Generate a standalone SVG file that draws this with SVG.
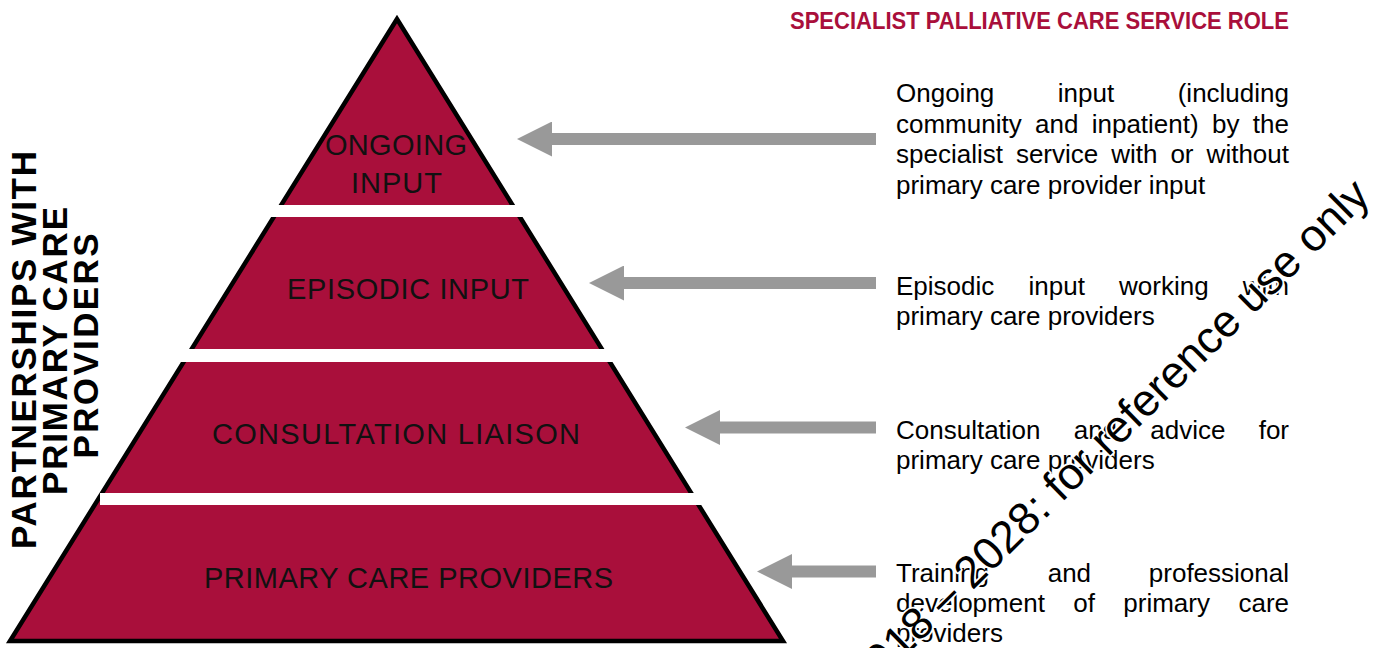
<svg xmlns="http://www.w3.org/2000/svg" width="1374" height="648" viewBox="0 0 1374 648">
<style>
.lvl{font-family:"Liberation Sans",Arial,sans-serif;font-size:29px;fill:#111}
.side{font-family:"Liberation Sans",Arial,sans-serif;font-size:35px;font-weight:bold;fill:#000}
.desc{font-family:"Liberation Sans",Arial,sans-serif;font-size:26px;fill:#000}
.title{font-family:"Liberation Sans",Arial,sans-serif;font-size:23px;font-weight:bold;fill:#A90F3B}
.wm{font-family:"Liberation Sans",Arial,sans-serif;font-size:45px;fill:#000;stroke:#fff;stroke-width:3.5;paint-order:stroke;stroke-linejoin:round}
.conn{stroke:#999;stroke-width:12;fill:none}
</style>
<defs>
<marker id="head" markerUnits="userSpaceOnUse" markerWidth="35" markerHeight="35" viewBox="0 0 35 35" refX="0" refY="17.5" orient="auto">
<path d="M0,0 L35,17.5 L0,35 z" fill="#999"/>
</marker>
</defs>
<rect width="1374" height="648" fill="#fff"/>
<g id="pyramid">
<polygon points="397,19 10,641 783,641" fill="#A90F3B" stroke="#000" stroke-width="4.5" stroke-linejoin="miter"/>
<rect x="0" y="205" width="800" height="12" fill="#fff"/>
<rect x="0" y="349" width="800" height="13" fill="#fff"/>
<rect x="100" y="493" width="700" height="12" fill="#fff"/>
</g>
<g id="level-ongoing">
<text class="lvl" x="325" y="155" textLength="142" lengthAdjust="spacing">ONGOING</text>
<text class="lvl" x="351" y="193" textLength="91" lengthAdjust="spacing">INPUT</text>
</g>
<g id="level-episodic">
<text class="lvl" x="287" y="299" textLength="242" lengthAdjust="spacing">EPISODIC INPUT</text>
</g>
<g id="level-consultation">
<text class="lvl" x="212" y="444" textLength="368" lengthAdjust="spacing">CONSULTATION LIAISON</text>
</g>
<g id="level-primary">
<text class="lvl" x="204" y="588" textLength="409" lengthAdjust="spacing">PRIMARY CARE PROVIDERS</text>
</g>
<g id="side-label">
<text class="side" x="36" y="350" text-anchor="middle" transform="rotate(-90 36 350)" textLength="398" lengthAdjust="spacing">PARTNERSHIPS WITH</text>
<text class="side" x="67" y="351" text-anchor="middle" transform="rotate(-90 67 351)" textLength="288" lengthAdjust="spacing">PRIMARY CARE</text>
<text class="side" x="97.5" y="346" text-anchor="middle" transform="rotate(-90 97.5 346)" textLength="225" lengthAdjust="spacing">PROVIDERS</text>
</g>
<g id="connectors">
<line class="conn" x1="876" y1="139" x2="552" y2="139" marker-end="url(#head)"/>
<line class="conn" x1="876" y1="283" x2="624" y2="283" marker-end="url(#head)"/>
<line class="conn" x1="876" y1="427.5" x2="720" y2="427.5" marker-end="url(#head)"/>
<line class="conn" x1="876" y1="571.5" x2="792" y2="571.5" marker-end="url(#head)"/>
</g>
<g id="title">
<text class="title" x="790" y="29" textLength="499" lengthAdjust="spacingAndGlyphs">SPECIALIST PALLIATIVE CARE SERVICE ROLE</text>
</g>
<g id="desc-ongoing">
<text class="desc" y="102"><tspan x="896">Ongoing</tspan><tspan x="1057.8">input</tspan><tspan x="1289" text-anchor="end">(including</tspan></text>
<text class="desc" y="132.5"><tspan x="896">community</tspan><tspan x="1035">and</tspan><tspan x="1091.7">inpatient)</tspan><tspan x="1212.1">by</tspan><tspan x="1289" text-anchor="end">the</tspan></text>
<text class="desc" y="163"><tspan x="896">specialist</tspan><tspan x="1015.9">service</tspan><tspan x="1111.2">with</tspan><tspan x="1170.4">or</tspan><tspan x="1289" text-anchor="end">without</tspan></text>
<text class="desc" x="896" y="193.5">primary care provider input</text>
</g>
<g id="desc-episodic">
<text class="desc" y="294.5"><tspan x="896">Episodic</tspan><tspan x="1028.5">input</tspan><tspan x="1119">working</tspan><tspan x="1289" text-anchor="end">with</tspan></text>
<text class="desc" x="896" y="325">primary care providers</text>
</g>
<g id="desc-consultation">
<text class="desc" y="438.5"><tspan x="896">Consultation</tspan><tspan x="1073.7">and</tspan><tspan x="1150.3">advice</tspan><tspan x="1289" text-anchor="end">for</tspan></text>
<text class="desc" x="896" y="469">primary care providers</text>
</g>
<g id="desc-primary">
<text class="desc" y="582"><tspan x="896">Training</tspan><tspan x="1047.7">and</tspan><tspan x="1289" text-anchor="end">professional</tspan></text>
<text class="desc" y="612"><tspan x="896">development</tspan><tspan x="1073.3">of</tspan><tspan x="1123.3">primary</tspan><tspan x="1289" text-anchor="end">care</tspan></text>
<text class="desc" x="896" y="642">providers</text>
</g>
<g id="watermark">
<text class="wm" x="1372" y="198" text-anchor="end" transform="rotate(-44.5 1372 198)">2018 – 2028: for reference use only</text>
</g>
</svg>
